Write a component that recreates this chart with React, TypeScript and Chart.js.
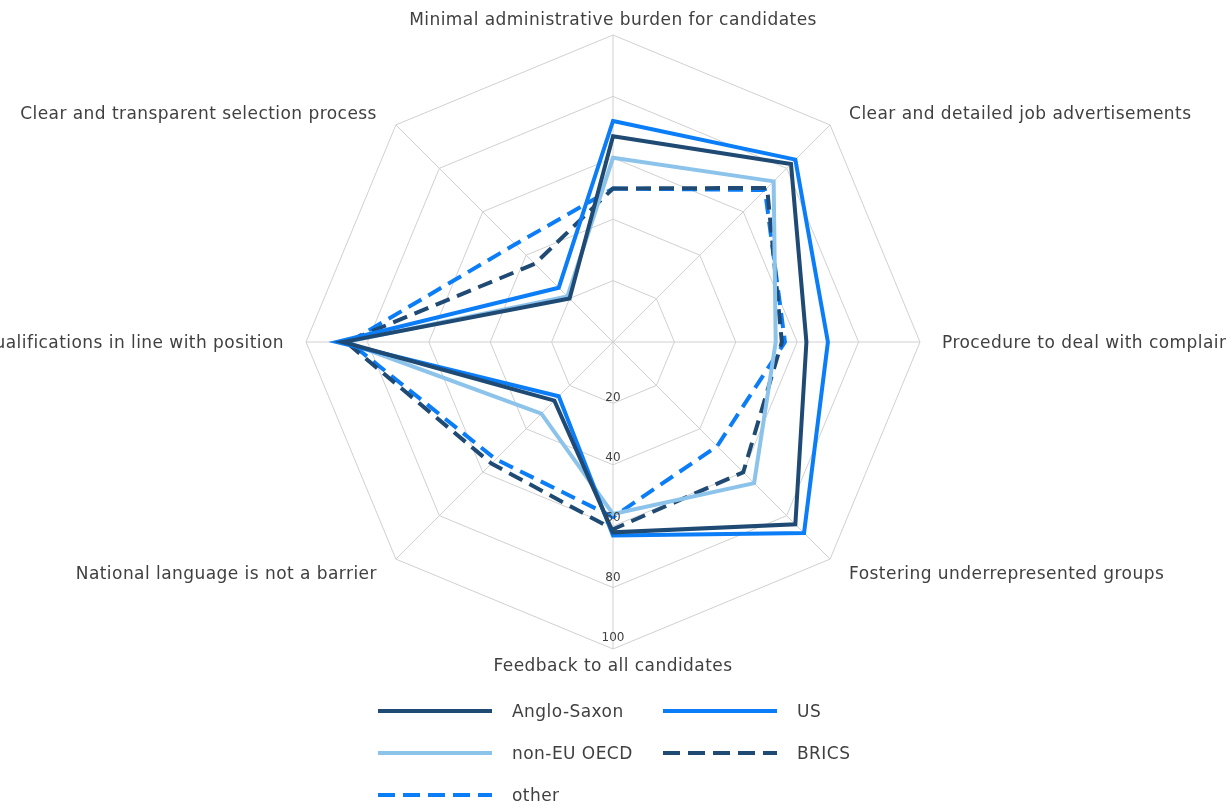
import React, { useEffect, useRef } from "react";
import { Chart, registerables } from "chart.js";

Chart.register(...registerables);

// Axes, clockwise from the top
const categories = [
  "Minimal administrative burden for candidates",
  "Clear and detailed job advertisements",
  "Procedure to deal with complaints",
  "Fostering underrepresented groups",
  "Feedback to all candidates",
  "National language is not a barrier",
  "Qualifications in line with position",
  "Clear and transparent selection process",
];

const seriesNames = ["Anglo-Saxon", "US", "non-EU OECD", "BRICS", "other"];

const angloSaxon = [67, 82, 63, 84, 62, 27, 88, 20];
const us = [72, 84, 70, 88, 63, 25, 90, 25];
const nonEuOecd = [60, 74, 53, 65, 56, 33, 87, 21];
const brics = [50, 71, 55, 60, 61, 56, 87, 36];
const other = [50, 70, 56, 48, 57, 54, 86, 45];

const tickValues = [20, 40, 60, 80, 100];

const seriesValues = [angloSaxon, us, nonEuOecd, brics, other];
const seriesColors = ["#1F4A73", "#0A7DF7", "#8CC3EB", "#1F4A73", "#0A7DF7"];
const seriesDashed = [false, false, false, true, true];

const FONT = '"DejaVu Sans", sans-serif';
const TEXT_COLOR = "#404040";

const labelPlugin = {
  id: "customLabels",
  afterDatasetsDraw(chart: any) {
    const scale = chart.scales.r;
    const ctx = chart.ctx;
    ctx.save();
    // point labels
    ctx.font = `17px ${FONT}`;
    (ctx as any).letterSpacing = "0.45px";
    ctx.fillStyle = TEXT_COLOR;
    ctx.textBaseline = "middle";
    categories.forEach((label, i) => {
      const p = scale.getPointPosition(i, scale.drawingArea);
      let x = p.x;
      let y = p.y + 2;
      const xc = Math.cos(p.angle);
      const ys = Math.sin(p.angle);
      if (Math.abs(xc) < 0.1) {
        ctx.textAlign = "center";
        y += ys < 0 ? -16 : 16;
      } else if (Math.abs(ys) < 0.1) {
        ctx.textAlign = xc > 0 ? "left" : "right";
        x += xc > 0 ? 22 : -22;
      } else {
        ctx.textAlign = xc > 0 ? "left" : "right";
        x += xc > 0 ? 19 : -19;
        y += ys < 0 ? -12 : 13;
      }
      ctx.fillText(label, x, y);
    });
    // tick labels along the bottom axis
    (ctx as any).letterSpacing = "0px";
    ctx.font = `12px ${FONT}`;
    ctx.textAlign = "center";
    tickValues.forEach((v) => {
      const d = scale.getDistanceFromCenterForValue(v);
      ctx.fillText(String(v), scale.xCenter, scale.yCenter + d * 0.976 - 4);
    });
    ctx.restore();
  },
};

function LegendLine({ color, dashed }: { color: string; dashed: boolean }) {
  return (
    <svg width={114} height={8} style={{ display: "block" }}>
      <line
        x1={0}
        y1={4}
        x2={114}
        y2={4}
        stroke={color}
        strokeWidth={4}
        strokeDasharray={dashed ? "17 8" : undefined}
      />
    </svg>
  );
}

export default function App() {
  const canvasRef = useRef<HTMLCanvasElement | null>(null);

  useEffect(() => {
    if (!canvasRef.current) return;
    const chart = new Chart(canvasRef.current, {
      type: "radar",
      data: {
        labels: categories,
        datasets: seriesNames.map((name, i) => ({
          label: name,
          data: seriesValues[i],
          borderColor: seriesColors[i],
          backgroundColor: "transparent",
          borderWidth: 4,
          borderDash: seriesDashed[i] ? [15, 8] : [],
          pointRadius: 0,
          pointHoverRadius: 0,
          fill: false,
          tension: 0,
        })),
      },
      options: {
        responsive: false,
        animation: false,
        layout: { padding: { top: 35, bottom: 157, left: 0, right: 0 } },
        plugins: {
          legend: { display: false },
          tooltip: { enabled: false },
        },
        scales: {
          r: {
            min: 0,
            max: 100,
            ticks: { stepSize: 20, display: false },
            grid: { color: "#D0D0D0", lineWidth: 1 },
            angleLines: { color: "#D0D0D0", lineWidth: 1 },
            pointLabels: { display: false },
          },
        },
      },
      plugins: [labelPlugin],
    });
    return () => chart.destroy();
  }, []);

  const legendRows = [
    [0, 1],
    [2, 3],
    [4],
  ];
  const colX = [378, 663];
  const rowY = [711, 753, 795];

  return (
    <div
      style={{
        position: "fixed",
        left: 0,
        top: 0,
        width: 1226,
        height: 807,
        background: "#fff",
        overflow: "hidden",
        fontFamily: FONT,
      }}
    >
      <canvas ref={canvasRef} width={1226} height={807} style={{ display: "block" }} />
      {legendRows.map((row, r) =>
        row.map((si, c) => (
          <div
            key={si}
            style={{
              position: "absolute",
              left: colX[c],
              top: rowY[r] - 12,
              height: 24,
              display: "flex",
              alignItems: "center",
            }}
          >
            <LegendLine color={seriesColors[si]} dashed={seriesDashed[si]} />
            <span
              style={{
                marginLeft: 20,
                fontSize: 17,
                letterSpacing: "0.45px",
                color: TEXT_COLOR,
                whiteSpace: "nowrap",
              }}
            >
              {seriesNames[si]}
            </span>
          </div>
        ))
      )}
    </div>
  );
}
